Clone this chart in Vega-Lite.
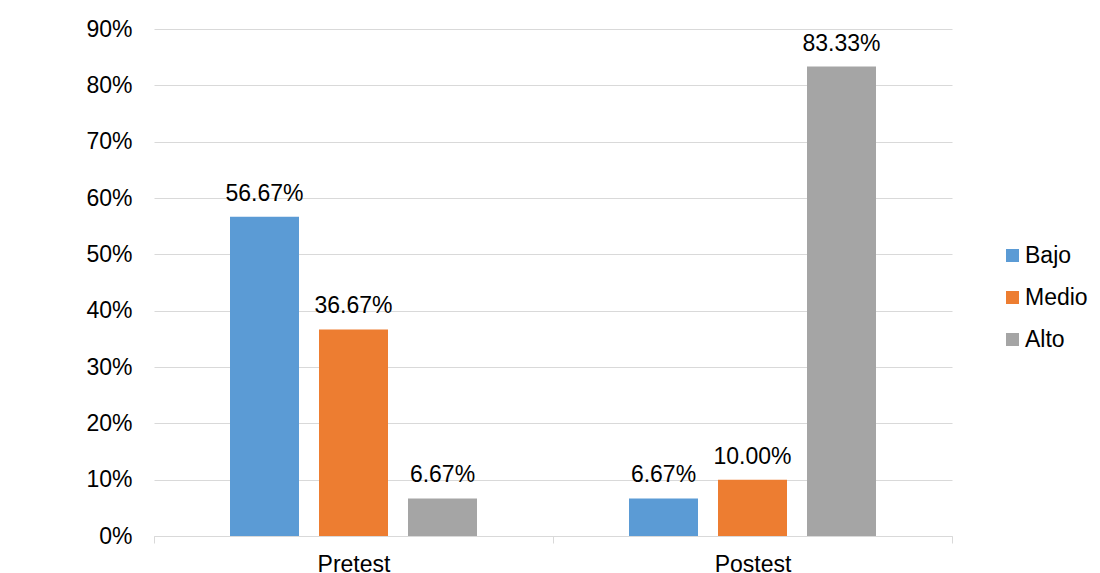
{
  "$schema": "https://vega.github.io/schema/vega-lite/v6.json",
  "width": 798,
  "height": 507,
  "autosize": {"type": "none"},
  "padding": {"left": 154, "top": 29, "right": 148, "bottom": 37},
  "background": "white",
  "config": {
    "view": {"stroke": null},
    "font": "Liberation Sans, Arial, sans-serif",
    "axis": {"labelFont": "Liberation Sans, Arial, sans-serif", "labelFontSize": 23, "labelColor": "#000000"},
    "legend": {"labelFont": "Liberation Sans, Arial, sans-serif", "labelFontSize": 23, "labelColor": "#000000"}
  },
  "data": {
    "values": [
      {"prueba": "Pretest", "nivel": "Bajo", "pct": 0.5667},
      {"prueba": "Pretest", "nivel": "Medio", "pct": 0.3667},
      {"prueba": "Pretest", "nivel": "Alto", "pct": 0.0667},
      {"prueba": "Postest", "nivel": "Bajo", "pct": 0.0667},
      {"prueba": "Postest", "nivel": "Medio", "pct": 0.1},
      {"prueba": "Postest", "nivel": "Alto", "pct": 0.8333}
    ]
  },
  "encoding": {
    "x": {
      "field": "prueba",
      "type": "nominal",
      "sort": ["Pretest", "Postest"],
      "scale": {"paddingInner": 0, "paddingOuter": 0},
      "axis": {
        "title": null,
        "labelAngle": 0,
        "tickBand": "extent",
        "domainColor": "#d9d9d9",
        "tickColor": "#d9d9d9",
        "tickSize": 7,
        "labelPadding": 10,
        "grid": false
      }
    },
    "xOffset": {
      "field": "nivel",
      "type": "nominal",
      "sort": ["Bajo", "Medio", "Alto"],
      "scale": {"paddingInner": 0.2247, "paddingOuter": 0.854}
    },
    "y": {
      "field": "pct",
      "type": "quantitative",
      "scale": {"domain": [0, 0.9], "nice": false},
      "axis": {
        "title": null,
        "format": ".0%",
        "values": [0, 0.1, 0.2, 0.3, 0.4, 0.5, 0.6, 0.7, 0.8, 0.9],
        "domain": false,
        "ticks": false,
        "labelPadding": 22,
        "grid": true,
        "gridColor": "#d9d9d9",
        "gridWidth": 1
      }
    }
  },
  "layer": [
    {
      "mark": {"type": "bar"},
      "encoding": {
        "color": {
          "field": "nivel",
          "type": "nominal",
          "scale": {"domain": ["Bajo", "Medio", "Alto"], "range": ["#5B9BD5", "#ED7D31", "#A5A5A5"]},
          "legend": {
            "title": null,
            "orient": "none",
            "legendX": 847,
            "legendY": 215,
            "symbolType": "square",
            "symbolSize": 169,
            "symbolStrokeWidth": 0,
            "labelOffset": 1,
            "rowPadding": 18,
            "padding": 0
          }
        }
      }
    },
    {
      "mark": {"type": "text", "baseline": "alphabetic", "dy": -16, "fontSize": 23, "color": "#000000"},
      "encoding": {
        "text": {"field": "pct", "type": "quantitative", "format": ".2%"}
      }
    }
  ]
}
